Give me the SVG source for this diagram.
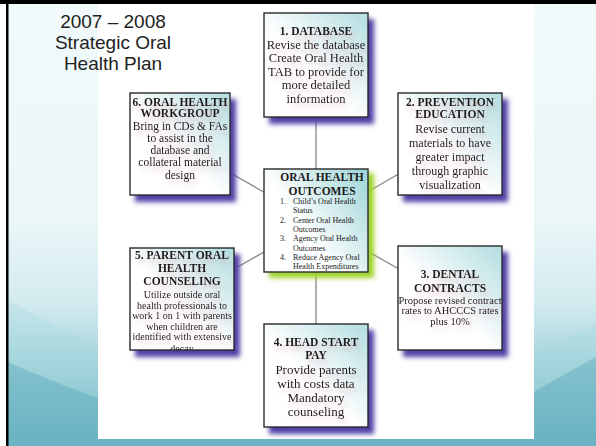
<svg xmlns="http://www.w3.org/2000/svg" width="596" height="446" viewBox="0 0 596 446">
<defs>
<style>
.t{font-family:"Liberation Serif","Times New Roman",serif;fill:#1a1a1a;text-anchor:middle}
.ti{font-weight:bold;font-size:11.5px}
.bd{font-size:12px}
.b1{font-size:12.5px}
.b6{font-size:11.5px}
.sm{font-size:10px}
.li{font-family:"Liberation Serif","Times New Roman",serif;fill:#1a1a1a;font-size:8px}
.hd{font-family:"Liberation Sans",Arial,sans-serif;font-size:19px;fill:#222;text-anchor:middle}
.box{stroke:#2a2a2a;stroke-width:1.4}
.conn{stroke:#858585;stroke-width:1.3;fill:none}
.shp{fill:#5040a6}
</style>
<linearGradient id="bg" x1="0" y1="0" x2="0" y2="1">
<stop offset="0" stop-color="#f2fafb"/>
<stop offset="0.5" stop-color="#eaf6f8"/>
<stop offset="0.68" stop-color="#d2ebef"/>
<stop offset="0.84" stop-color="#9bcfd8"/>
<stop offset="1" stop-color="#60adbd"/>
</linearGradient>
<linearGradient id="bf" x1="0" y1="1" x2="1" y2="0">
<stop offset="0" stop-color="#ffffff"/>
<stop offset="0.45" stop-color="#ffffff"/>
<stop offset="1" stop-color="#b2dde0"/>
</linearGradient>
<linearGradient id="cf" x1="0" y1="0.8" x2="1" y2="0.1">
<stop offset="0" stop-color="#ffffff"/>
<stop offset="0.35" stop-color="#ffffff"/>
<stop offset="1" stop-color="#a2d6d8"/>
</linearGradient>
<filter id="sh" x="-20%" y="-20%" width="140%" height="140%">
<feGaussianBlur stdDeviation="2.4"/>
</filter>
<filter id="ts" x="-15%" y="-15%" width="130%" height="140%">
<feGaussianBlur in="SourceAlpha" stdDeviation="2.5" result="b"/>
<feOffset in="b" dx="3" dy="5" result="o"/>
<feFlood flood-color="#c87080" flood-opacity="0.3"/>
<feComposite in2="o" operator="in" result="s"/>
<feMerge><feMergeNode in="s"/><feMergeNode in="SourceGraphic"/></feMerge>
</filter>
<clipPath id="c5"><rect x="130" y="248" width="104" height="102"/></clipPath>
</defs>

<g id="background">
<rect x="0" y="0" width="596" height="446" fill="#ffffff"/>
<rect x="8" y="0" width="588" height="446" fill="url(#bg)"/>
<path d="M8,300 C40,318 70,333 98,345 L98,446 L8,446 Z" fill="#a6d6de" opacity="0.3"/>
<path d="M8,362 C40,376 70,388 98,398 L98,446 L8,446 Z" fill="#5aa9ba" opacity="0.45"/>
<path d="M534,352 C555,342 575,333 596,325 L596,446 L534,446 Z" fill="#a6d6de" opacity="0.3"/>
<path d="M534,392 C555,380 575,368 596,357 L596,446 L534,446 Z" fill="#5aa9ba" opacity="0.45"/>
<rect x="98" y="4" width="436" height="435" fill="#ffffff"/>
<rect x="8" y="439" width="588" height="7" fill="#6ab4c3"/>
<rect x="0" y="0" width="596" height="4" fill="#000000"/>
<rect x="6" y="0" width="2.5" height="446" fill="#000000"/>
</g>

<g id="title">
<text class="hd" x="113" y="28">2007 – 2008</text>
<text class="hd" x="113" y="49">Strategic Oral</text>
<text class="hd" x="113" y="70">Health Plan</text>
</g>

<g id="connectors">
<line class="conn" x1="316" y1="117" x2="316" y2="169"/>
<line class="conn" x1="316" y1="272" x2="316" y2="324"/>
<line class="conn" x1="230" y1="172.7" x2="264" y2="192.2"/>
<line class="conn" x1="368" y1="191.7" x2="398" y2="174.3"/>
<line class="conn" x1="234" y1="269" x2="264" y2="252"/>
<line class="conn" x1="368" y1="251.5" x2="398" y2="268.5"/>
</g>

<g id="n1">
<rect class="shp" x="269" y="19" width="105" height="105" filter="url(#sh)"/>
<rect class="box" x="264" y="13" width="104" height="104" fill="url(#bf)"/>
<g filter="url(#ts)">
<text class="t ti" x="316" y="35">1. DATABASE</text>
<text class="t b1" x="316" y="48.5">Revise the database</text>
<text class="t b1" x="316" y="62">Create Oral Health</text>
<text class="t b1" x="316" y="75.5">TAB to provide for</text>
<text class="t b1" x="316" y="89">more detailed</text>
<text class="t b1" x="316" y="102.5">information</text>
</g>
</g>

<g id="n6">
<rect class="shp" x="135" y="99" width="101" height="103" filter="url(#sh)"/>
<rect class="box" x="130" y="93" width="100" height="102" fill="url(#bf)"/>
<g filter="url(#ts)">
<text class="t ti" x="180" y="105.5">6. ORAL HEALTH</text>
<text class="t ti" x="180" y="117">WORKGROUP</text>
<text class="t b6" x="180" y="129.5">Bring in CDs &amp; FAs</text>
<text class="t b6" x="180" y="141.8">to assist in the</text>
<text class="t b6" x="180" y="154.1">database and</text>
<text class="t b6" x="180" y="166.4">collateral material</text>
<text class="t b6" x="180" y="178.7">design</text>
</g>
</g>

<g id="n2">
<rect class="shp" x="403" y="99" width="105" height="103" filter="url(#sh)"/>
<rect class="box" x="398" y="93" width="104" height="102" fill="url(#bf)"/>
<g filter="url(#ts)">
<text class="t ti" x="450" y="106">2. PREVENTION</text>
<text class="t ti" x="450" y="117.5">EDUCATION</text>
<text class="t bd" x="450" y="132.5">Revise current</text>
<text class="t bd" x="450" y="146.5">materials to have</text>
<text class="t bd" x="450" y="160.5">greater impact</text>
<text class="t bd" x="450" y="174.5">through graphic</text>
<text class="t bd" x="450" y="188.5">visualization</text>
</g>
</g>

<g id="center">
<rect x="269" y="173" width="105" height="105" fill="#9fd12a" filter="url(#sh)"/>
<rect class="box" x="264" y="169" width="104" height="103" fill="url(#cf)"/>
<text class="t" x="322" y="181" style="font-weight:bold;font-size:11.5px">ORAL HEALTH</text>
<text class="t" x="322" y="194.5" style="font-weight:bold;font-size:11.5px">OUTCOMES</text>
<text class="li" x="280" y="204">1.</text>
<text class="li" x="293" y="204">Child’s Oral Health</text>
<text class="li" x="293" y="213.3">Status</text>
<text class="li" x="280" y="222.6">2.</text>
<text class="li" x="293" y="222.6">Center Oral Health</text>
<text class="li" x="293" y="231.9">Outcomes</text>
<text class="li" x="280" y="241.2">3.</text>
<text class="li" x="293" y="241.2">Agency Oral Health</text>
<text class="li" x="293" y="250.5">Outcomes</text>
<text class="li" x="280" y="259.8">4.</text>
<text class="li" x="293" y="259.8">Reduce Agency Oral</text>
<text class="li" x="293" y="269.1">Health Expenditures</text>
</g>

<g id="n5">
<rect class="shp" x="135" y="254" width="105" height="103" filter="url(#sh)"/>
<rect class="box" x="130" y="248" width="104" height="102" fill="url(#bf)"/>
<g filter="url(#ts)" clip-path="url(#c5)">
<text class="t ti" x="182" y="258.5">5. PARENT ORAL</text>
<text class="t ti" x="182" y="271.5">HEALTH</text>
<text class="t ti" x="182" y="284.5">COUNSELING</text>
<text class="t sm" x="182" y="298">Utilize outside oral</text>
<text class="t sm" x="182" y="308.5">health professionals to</text>
<text class="t sm" x="182" y="319">work 1 on 1 with parents</text>
<text class="t sm" x="182" y="329.5">when children are</text>
<text class="t sm" x="182" y="340">identified with extensive</text>
<text class="t sm" x="182" y="351.5">decay</text>
</g>
</g>

<g id="n3">
<rect class="shp" x="403" y="252" width="105" height="105" filter="url(#sh)"/>
<rect class="box" x="398" y="246" width="104" height="104" fill="url(#bf)"/>
<g filter="url(#ts)">
<text class="t ti" x="450" y="278">3. DENTAL</text>
<text class="t ti" x="450" y="291.5">CONTRACTS</text>
<text class="t" x="450" y="304" style="font-size:10.5px">Propose revised contract</text>
<text class="t" x="450" y="314.3" style="font-size:10.5px">rates to AHCCCS rates</text>
<text class="t" x="450" y="324.6" style="font-size:10.5px">plus 10%</text>
</g>
</g>

<g id="n4">
<rect class="shp" x="269" y="330" width="105" height="104" filter="url(#sh)"/>
<rect class="box" x="264" y="324" width="104" height="103" fill="url(#bf)"/>
<g filter="url(#ts)">
<text class="t ti" x="316" y="346">4. HEAD START</text>
<text class="t ti" x="316" y="359">PAY</text>
<text class="t" x="316" y="373.5" style="font-size:13px">Provide parents</text>
<text class="t" x="316" y="387.5" style="font-size:13px">with costs data</text>
<text class="t" x="316" y="401.5" style="font-size:13px">Mandatory</text>
<text class="t" x="316" y="415.5" style="font-size:13px">counseling</text>
</g>
</g>
</svg>
